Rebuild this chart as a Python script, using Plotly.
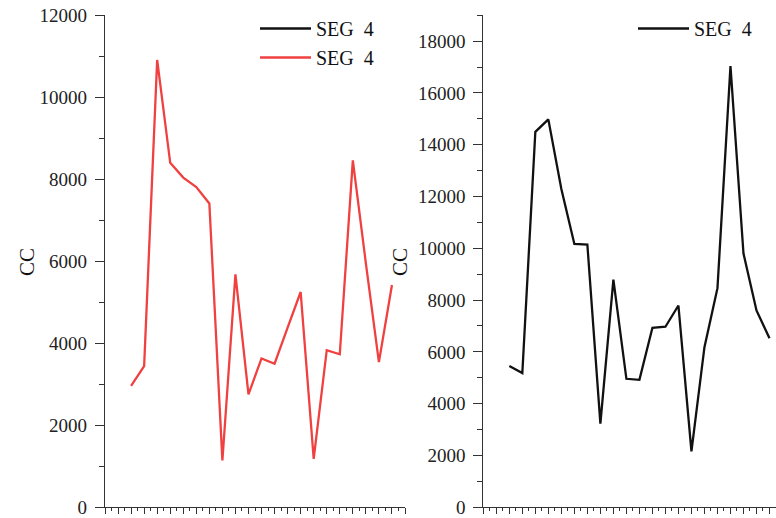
import plotly.graph_objects as go

# Sample index along the x axis (no tick labels are shown)
idx = list(range(2, 23))

# CC readings for the two SEG 4 series
cc_red = [2960, 3440, 10910, 8400, 8040, 7810, 7410, 1140, 5680, 2750,
          3630, 3500, 4380, 5250, 1180, 3830, 3730, 8460, 5950, 3540, 5420]
cc_black = [5450, 5180, 14500, 14980, 12290, 10170, 10140, 3230, 8790, 4960,
            4920, 6930, 6970, 7790, 2160, 6180, 8460, 17040, 9800, 7600, 6530]

SERIES_NAME = "SEG  4"
RED = "#F04040"
BLACK = "#111111"
AX = "#333333"
FONT = "Liberation Serif"

fig = go.Figure()

# legend entry for the black series in the left legend (no data drawn)
fig.add_trace(go.Scatter(x=[None], y=[None], mode="lines", name=SERIES_NAME,
                         line=dict(color=BLACK, width=2.3), legend="legend",
                         xaxis="x", yaxis="y", hoverinfo="skip"))
fig.add_trace(go.Scatter(x=idx, y=cc_red, mode="lines", name=SERIES_NAME,
                         line=dict(color=RED, width=2.3), legend="legend",
                         xaxis="x", yaxis="y"))
fig.add_trace(go.Scatter(x=idx, y=cc_black, mode="lines", name=SERIES_NAME,
                         line=dict(color=BLACK, width=2.3), legend="legend2",
                         xaxis="x2", yaxis="y2"))

W, H = 776, 518
ybot = (H - 507.2) / H
ytop = (H - 15.3) / H

xcommon = dict(showgrid=False, zeroline=False, showline=True, linecolor=AX,
               linewidth=1.2, ticks="outside", ticklen=6, tickwidth=1,
               tickcolor=AX, dtick=1, tick0=0, showticklabels=False,
               automargin=False,
               minor=dict(ticks="outside", ticklen=3, dtick=0.5, tickcolor=AX,
                          tickwidth=1, showgrid=False))
ycommon = dict(showgrid=False, zeroline=False, showline=True, linecolor=AX,
               linewidth=1.2, ticks="outside", ticklen=9, tickwidth=1,
               tickcolor=AX, dtick=2000, tick0=0, ticklabelstandoff=4,
               tickformat="d", ticklabeloverflow="allow", automargin=False,
               tickfont=dict(family=FONT, size=19, color="#222222"),
               minor=dict(ticks="outside", ticklen=5, dtick=1000, tickcolor=AX,
                          tickwidth=1, showgrid=False))

legend_font = dict(family=FONT, size=20, color="#111111")
title_font = dict(family=FONT, size=21, color="#111111")

fig.update_layout(
    width=W, height=H,
    margin=dict(l=0, r=0, t=0, b=0),
    paper_bgcolor="white", plot_bgcolor="white",
    xaxis=dict(domain=[105 / W, 405 / W], range=[0, 23], anchor="y", **xcommon),
    yaxis=dict(domain=[ybot, ytop], range=[0, 12000], anchor="x", **ycommon),
    xaxis2=dict(domain=[483.3 / W, 1.0], range=[0, 22.5], anchor="y2", **xcommon),
    yaxis2=dict(domain=[ybot, ytop], range=[0, 19000], anchor="x2", **ycommon),
    legend=dict(x=255 / W, y=1 - 9 / H, xanchor="left", yanchor="top",
                itemwidth=51, bgcolor="rgba(0,0,0,0)", font=legend_font),
    legend2=dict(x=633 / W, y=1 - 9 / H, xanchor="left", yanchor="top",
                 itemwidth=51, bgcolor="rgba(0,0,0,0)", font=legend_font),
    showlegend=True,
    annotations=[
        dict(text="CC", textangle=-90, xref="paper", yref="paper",
             x=27 / W, y=1 - 262 / H, xanchor="center", yanchor="middle",
             showarrow=False, font=title_font),
        dict(text="CC", textangle=-90, xref="paper", yref="paper",
             x=400 / W, y=1 - 262 / H, xanchor="center", yanchor="middle",
             showarrow=False, font=title_font),
    ],
)

fig.write_html("out.html")
